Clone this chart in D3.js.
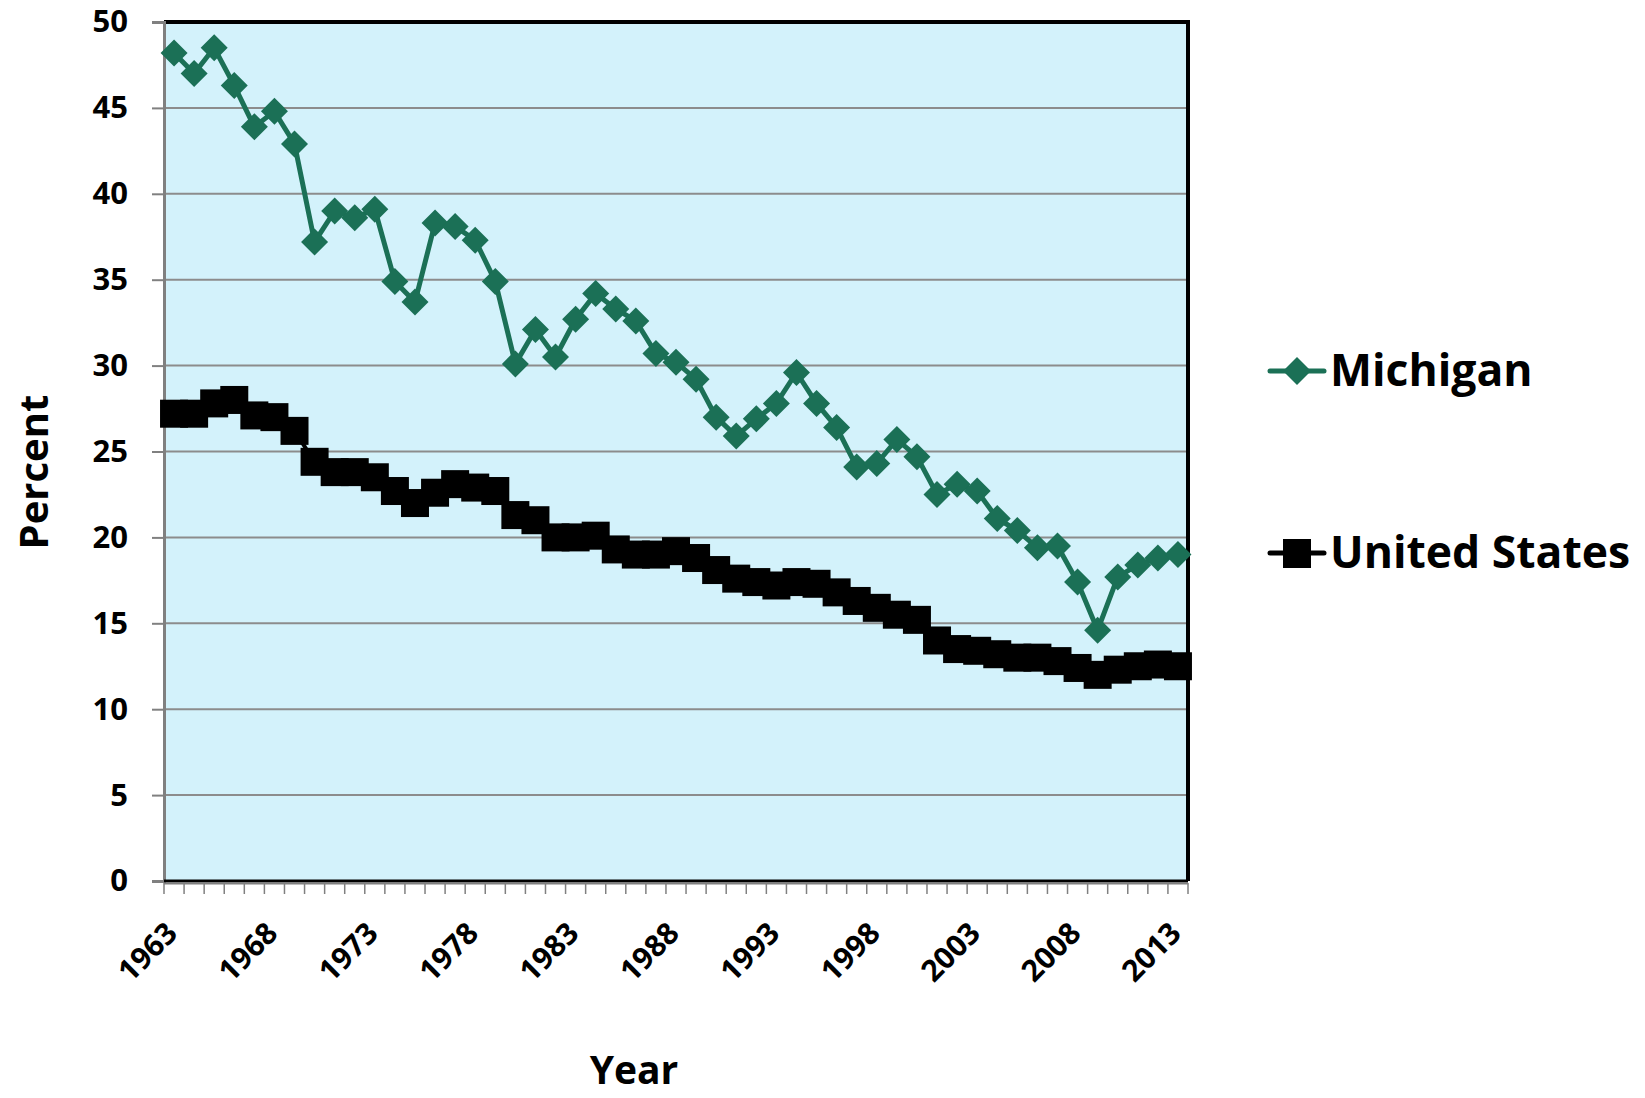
<!DOCTYPE html>
<html><head><meta charset="utf-8">
<script src="https://cdn.jsdelivr.net/npm/d3@7"></script>
<style>html,body{margin:0;padding:0;background:#fff;}svg{display:block;font-family:"Open Sans","DejaVu Sans",sans-serif;}</style>
</head><body>
<svg id="chart" width="1645" height="1098"></svg>
<script>
const years = d3.range(1963, 2014);
const michigan = [48.2,47.0,48.5,46.3,43.9,44.8,42.9,37.2,39.0,38.6,39.1,34.9,33.7,38.3,38.1,37.3,34.9,30.1,32.1,30.5,32.7,34.2,33.3,32.6,30.7,30.2,29.2,27.0,25.9,26.9,27.8,29.6,27.8,26.4,24.1,24.3,25.7,24.7,22.5,23.1,22.7,21.1,20.4,19.4,19.5,17.4,14.6,17.7,18.4,18.8,19.0];
const unitedStates = [27.2,27.2,27.8,28.0,27.1,27.0,26.2,24.4,23.8,23.8,23.5,22.7,22.0,22.6,23.1,22.9,22.7,21.3,21.0,20.0,20.0,20.1,19.3,19.0,19.0,19.2,18.8,18.1,17.6,17.4,17.2,17.4,17.3,16.8,16.3,15.9,15.5,15.2,14.0,13.5,13.4,13.2,13.0,13.0,12.8,12.4,12.0,12.3,12.5,12.6,12.5];
const yTicks = [0,5,10,15,20,25,30,35,40,45,50];
const xTickLabels = [1963,1968,1973,1978,1983,1988,1993,1998,2003,2008,2013];
const seriesNames = ["Michigan","United States"];

const svg = d3.select("#chart");
const L = 164, R = 1188, T = 22, B = 881;
const x = d3.scaleBand().domain(years).range([L, R]).padding(0);
const cx = d => x(d) + x.bandwidth() / 2;
const y = d3.scaleLinear().domain([0, 50]).range([B, T]);
const green = "#1B7056";

// plot background
svg.append("rect").attr("x", L).attr("y", T).attr("width", R - L).attr("height", B - T).attr("fill", "#D3F2FB");

// gridlines
svg.append("g").selectAll("line").data(yTicks.filter(v => v > 0)).join("line")
  .attr("x1", L).attr("x2", R).attr("y1", d => y(d)).attr("y2", d => y(d))
  .attr("stroke", "#8C8C8C").attr("stroke-width", 2);

// border top/right
svg.append("path").attr("d", `M${L},${T}H${R}V${B}`).attr("fill", "none").attr("stroke", "#000").attr("stroke-width", 4);

// y axis
const yAxis = d3.axisLeft(y).tickValues(yTicks).tickSize(12).tickPadding(24);
const gy = svg.append("g").attr("transform", `translate(${L},0)`).call(yAxis);
gy.select(".domain").attr("stroke", "#808080").attr("stroke-width", 3);
gy.selectAll(".tick line").attr("stroke", "#808080").attr("stroke-width", 2);
gy.selectAll("text").attr("font-size", 31).attr("font-weight", 700).attr("fill", "#000")
  .attr("font-family", "'Open Sans', sans-serif");

// x axis
const gx = svg.append("g").attr("transform", `translate(0,${B})`);
gx.append("line").attr("x1", L).attr("x2", R).attr("y1", 0).attr("y2", 0).attr("stroke", "#000").attr("stroke-width", 3);
gx.append("line").attr("x1", L).attr("x2", R).attr("y1", 2.5).attr("y2", 2.5).attr("stroke", "#808080").attr("stroke-width", 2);
const bounds = years.map(d => x(d)).concat([R]);
gx.selectAll("line.tk").data(bounds).join("line").attr("class", "tk")
  .attr("x1", d => d).attr("x2", d => d).attr("y1", 2).attr("y2", 13)
  .attr("stroke", "#808080").attr("stroke-width", 1.5);
gx.selectAll("text").data(xTickLabels).join("text")
  .attr("transform", d => `translate(${cx(d) + 5},${54}) rotate(-45)`)
  .attr("text-anchor", "end")
  .attr("font-size", 30).attr("font-weight", 700).text(d => d);
gy.select(".domain").raise();

// lines
const line = d3.line().x((d, i) => cx(years[i])).y(d => y(d));
svg.append("path").datum(unitedStates).attr("d", line).attr("fill", "none").attr("stroke", "#000").attr("stroke-width", 4);
svg.append("g").selectAll("rect").data(unitedStates).join("rect")
  .attr("x", (d, i) => cx(years[i]) - 14).attr("y", d => y(d) - 14)
  .attr("width", 28).attr("height", 28).attr("fill", "#000");

svg.append("path").datum(michigan).attr("d", line).attr("fill", "none").attr("stroke", green).attr("stroke-width", 5);
const diamond = s => `M0,${-s}L${s},0L0,${s}L${-s},0Z`;
svg.append("g").selectAll("path").data(michigan).join("path")
  .attr("transform", (d, i) => `translate(${cx(years[i])},${y(d)})`)
  .attr("d", diamond(13.5)).attr("fill", green);

// axis titles
svg.append("text").attr("transform", "translate(48,472) rotate(-90)").attr("text-anchor", "middle")
  .attr("font-size", 40).attr("font-weight", 700).text("Percent");
svg.append("text").attr("x", 634).attr("y", 1084).attr("text-anchor", "middle")
  .attr("font-size", 39).attr("font-weight", 700).text("Year");

// legend
const lg = svg.append("g");
lg.append("line").attr("x1", 1270).attr("x2", 1324).attr("y1", 371).attr("y2", 371).attr("stroke", green).attr("stroke-width", 5).attr("stroke-linecap", "round");
lg.append("path").attr("transform", "translate(1297,371)").attr("d", diamond(14)).attr("fill", green);
lg.append("text").attr("x", 1330).attr("y", 386).attr("font-size", 44.5).attr("font-weight", 700).text(seriesNames[0]);
lg.append("line").attr("x1", 1270).attr("x2", 1324).attr("y1", 553).attr("y2", 553).attr("stroke", "#000").attr("stroke-width", 5).attr("stroke-linecap", "round");
lg.append("rect").attr("x", 1283).attr("y", 539).attr("width", 28).attr("height", 29).attr("fill", "#000");
lg.append("text").attr("x", 1330).attr("y", 568).attr("font-size", 44.5).attr("font-weight", 700).text(seriesNames[1]);
</script>
</body></html>
